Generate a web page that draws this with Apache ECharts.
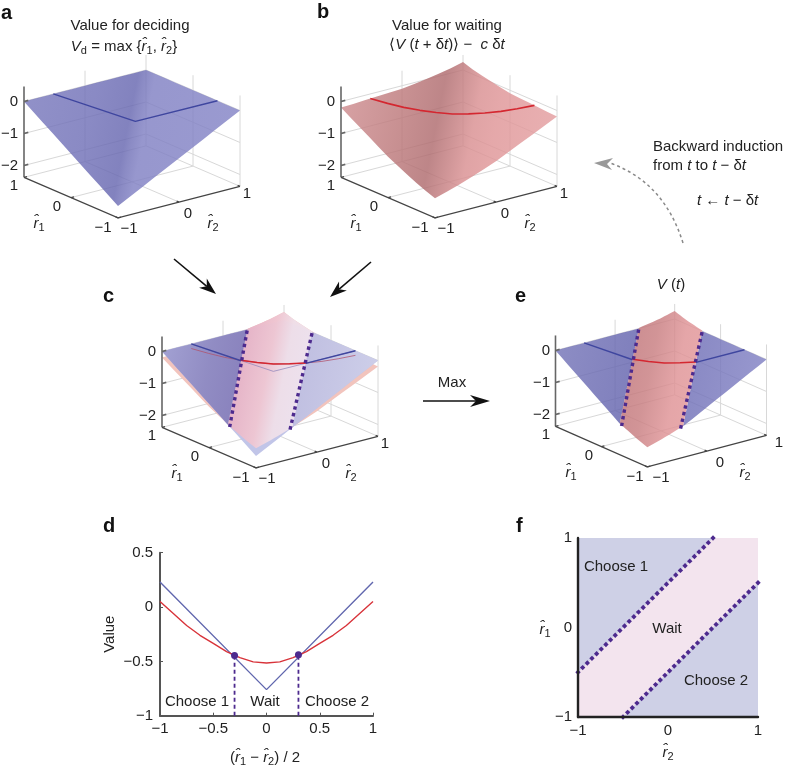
<!DOCTYPE html>
<html>
<head>
<meta charset="utf-8">
<style>
  html, body { margin: 0; padding: 0; background: #fff; }
  #chart { width: 788px; height: 770px; }
</style>
<script src="https://cdn.jsdelivr.net/npm/echarts@6/dist/echarts.min.js"></script>
</head>
<body>
<div id="chart"></div>
<script>
// values
const rGrid = [-1, -0.75, -0.5, -0.25, 0, 0.25, 0.5, 0.75, 1]
// rows are r1, columns are r2
const decideSurface = [
  [-2, -1.75, -1.5, -1.25, -1, -0.75, -0.5, -0.25, 0],
  [-1.75, -1.75, -1.5, -1.25, -1, -0.75, -0.5, -0.25, 0],
  [-1.5, -1.5, -1.5, -1.25, -1, -0.75, -0.5, -0.25, 0],
  [-1.25, -1.25, -1.25, -1.25, -1, -0.75, -0.5, -0.25, 0],
  [-1, -1, -1, -1, -1, -0.75, -0.5, -0.25, 0],
  [-0.75, -0.75, -0.75, -0.75, -0.75, -0.75, -0.5, -0.25, 0],
  [-0.5, -0.5, -0.5, -0.5, -0.5, -0.5, -0.5, -0.25, 0],
  [-0.25, -0.25, -0.25, -0.25, -0.25, -0.25, -0.25, -0.25, 0],
  [0, 0, 0, 0, 0, 0, 0, 0, 0]
]
const waitSurface = [
  [-1.76, -1.62, -1.46, -1.28, -1.09, -0.87, -0.64, -0.42, -0.19],
  [-1.62, -1.51, -1.37, -1.21, -1.03, -0.84, -0.62, -0.39, -0.17],
  [-1.46, -1.37, -1.26, -1.12, -0.96, -0.78, -0.59, -0.37, -0.14],
  [-1.28, -1.21, -1.12, -1.01, -0.87, -0.71, -0.53, -0.34, -0.12],
  [-1.09, -1.03, -0.96, -0.87, -0.76, -0.62, -0.46, -0.28, -0.09],
  [-0.87, -0.84, -0.78, -0.71, -0.62, -0.51, -0.37, -0.21, -0.03],
  [-0.64, -0.62, -0.59, -0.53, -0.46, -0.37, -0.26, -0.12, 0.05],
  [-0.42, -0.39, -0.37, -0.34, -0.28, -0.21, -0.12, -0.01, 0.13],
  [-0.19, -0.17, -0.14, -0.12, -0.09, -0.03, 0.05, 0.13, 0.25]
]
const sliceMean = 0.24
const sliceDiffs = [-0.76, -0.6, -0.45, -0.3, -0.15, 0, 0.15, 0.3, 0.45, 0.6, 0.76]
const diffBoundary = 0.3

const profileX = [-1, -0.875, -0.75, -0.625, -0.5, -0.375, -0.25, -0.125, 0, 0.125, 0.25, 0.375, 0.5, 0.625, 0.75, 0.875, 1]
const waitProfile = [0.05, -0.06, -0.17, -0.26, -0.335, -0.41, -0.465, -0.505, -0.515, -0.505, -0.465, -0.41, -0.335, -0.26, -0.17, -0.06, 0.05]
const decideX = [-1, 0, 1]
const decideProfile = [0.23, -0.76, 0.23]
const crossX = [-0.3, 0.3]
const crossY = [-0.445, -0.44]

const mapEdges = [-1, 1]
const upperBoundary = [[-1, -0.5], [0.5, 1]]
const lowerBoundary = [[-0.5, -1], [1, 0.5]]

const zTicks = [0, -1, -2]
const rTicks = [-1, 0, 1]

const font = '"Liberation Sans", Arial, sans-serif'
const purple = '#4d2a8e'
const boxBottom = -2.37
const boxTop = 0.47
const surfaceAlpha = 0.82

// oblique view shared by the four surface panels
function project(p) {
  return [-47 * p[0] + 61 * p[1], 20.25 * p[0] + 15.75 * p[1] + 32 * p[2]]
}

function sample(surface, r1, r2) {
  let step = rGrid[1] - rGrid[0]
  let a = Math.min((r1 - rGrid[0]) / step, rGrid.length - 1.001)
  let b = Math.min((r2 - rGrid[0]) / step, rGrid.length - 1.001)
  let i = Math.floor(a), j = Math.floor(b)
  let u = a - i, v = b - j
  return surface[i][j] * (1 - u) * (1 - v) + surface[i + 1][j] * u * (1 - v) +
    surface[i][j + 1] * (1 - u) * v + surface[i + 1][j + 1] * u * v
}

// walk round a region of the (r1, r2) plane, following the surface height
function outline(surface, corners) {
  let pts = []
  corners.forEach((c, k) => {
    let next = corners[(k + 1) % corners.length]
    for (let s = 0; s < 10; s++) {
      let r1 = c[0] + (next[0] - c[0]) * s / 10
      let r2 = c[1] + (next[1] - c[1]) * s / 10
      pts.push(project([r1, r2, sample(surface, r1, r2)]))
    }
  })
  return pts
}

const series = []
const grids = []
const xAxes = []
const yAxes = []
let order = 2

function addPolygon(axisIndex, points, fill, opacity) {
  series.push({
    type: 'custom',
    coordinateSystem: 'cartesian2d',
    xAxisIndex: axisIndex,
    yAxisIndex: axisIndex,
    data: [[0, 0]],
    z: order++,
    silent: true,
    clip: false,
    renderItem(params, api) {
      return {
        type: 'polygon',
        shape: { points: points.map(p => api.coord(p)) },
        style: { fill: fill, opacity: opacity === undefined ? 1 : opacity }
      }
    }
  })
}

function addSegments(axisIndex, lines, color, width) {
  series.push({
    type: 'custom',
    coordinateSystem: 'cartesian2d',
    xAxisIndex: axisIndex,
    yAxisIndex: axisIndex,
    data: [[0, 0]],
    z: order++,
    silent: true,
    clip: false,
    renderItem(params, api) {
      return {
        type: 'group',
        children: lines.map(l => ({
          type: 'polyline',
          shape: { points: l.map(p => api.coord(p)) },
          style: { stroke: color, lineWidth: width, fill: null }
        }))
      }
    }
  })
}

function addLine(axisIndex, data, color, width, opts) {
  opts = opts || {}
  series.push({
    type: 'line',
    xAxisIndex: axisIndex,
    yAxisIndex: axisIndex,
    data: data,
    z: order++,
    showSymbol: false,
    symbol: 'none',
    silent: true,
    clip: false,
    lineStyle: { color: color, width: width, type: opts.dash || 'solid', cap: 'butt', opacity: opts.opacity === undefined ? 1 : opts.opacity }
  })
}

// a run of small square dots between two points on the panel's scales
function addDots(axisIndex, from, to, pxPerUnit, size) {
  let dx = (to[0] - from[0]) * pxPerUnit, dy = (to[1] - from[1]) * pxPerUnit
  let len = Math.sqrt(dx * dx + dy * dy)
  let count = Math.round(len / 6.6)
  let dots = []
  for (let s = 0; s <= count; s++) {
    dots.push([from[0] + (to[0] - from[0]) * s / count, from[1] + (to[1] - from[1]) * s / count])
  }
  series.push({
    type: 'scatter',
    xAxisIndex: axisIndex,
    yAxisIndex: axisIndex,
    data: dots,
    symbol: 'rect',
    symbolSize: size,
    symbolRotate: Math.atan2(dy, dx) * 180 / Math.PI,
    z: order++,
    silent: true,
    clip: false,
    itemStyle: { color: purple, opacity: 1 }
  })
}

function boundaryDots(idx, a, b) {
  let from = project([a[0], a[1], sample(decideSurface, a[0], a[1])])
  let to = project([b[0], b[1], sample(decideSurface, b[0], b[1])])
  addDots(idx, from, to, 1, 3.4)
}

// the colour to lay down so that it shows as hex over white at surfaceAlpha
function seeThrough(hex) {
  let out = '#'
  for (let i = 1; i < 7; i += 2) {
    let v = parseInt(hex.substr(i, 2), 16)
    let c = Math.max(0, Math.round((v - 255 * (1 - surfaceAlpha)) / surfaceAlpha))
    out += (c < 16 ? '0' : '') + c.toString(16)
  }
  return out
}

// shading runs across the r1 = r2 crease, which leans a little on the page
function gradient(panel, stops, opaque) {
  let cx = panel.dx + 132, cy = panel.dy + 138
  return {
    type: 'linear',
    global: true,
    x: cx - 106, y: cy - 21, x2: cx + 106, y2: cy + 21,
    colorStops: stops.map(s => ({ offset: s[0], color: opaque ? s[1] : seeThrough(s[1]) }))
  }
}

function addBox(idx) {
  let walls = []
  zTicks.forEach(z => {
    walls.push([project([1, -1, z]), project([1, 1, z]), project([-1, 1, z])])
  })
  walls.push([project([1, 0, boxBottom]), project([1, 0, boxTop])])
  walls.push([project([1, 1, boxBottom]), project([1, 1, boxTop])])
  walls.push([project([0, 1, boxBottom]), project([0, 1, boxTop])])
  walls.push([project([-1, 1, boxBottom]), project([-1, 1, boxTop])])
  walls.push([project([1, -1, boxBottom]), project([1, 1, boxBottom]), project([-1, 1, boxBottom])])
  walls.push([project([0, -1, boxBottom]), project([0, 1, boxBottom])])
  walls.push([project([-1, 0, boxBottom]), project([1, 0, boxBottom])])
  addSegments(idx, walls, '#d8d8d8', 1)
}

function addAxes(idx) {
  addSegments(idx, [[project([1, -1, boxBottom]), project([1, -1, boxTop])]].concat(
    zTicks.map(z => [project([1, -1, z]), project([1, -0.93, z])])
  ), '#666', 1.6)
  let floor = [[project([1, -1, boxBottom]), project([-1, -1, boxBottom]), project([-1, 1, boxBottom])]]
  rTicks.forEach(r => {
    floor.push([project([r, -1, boxBottom]), project([r, -0.95, boxBottom])])
    floor.push([project([-1, r, boxBottom]), project([-0.95, r, boxBottom])])
  })
  addSegments(idx, floor, '#444', 1.3)
}

function surfaceSlice(surface, diffs) {
  return diffs.map(d => {
    let r1 = sliceMean + d, r2 = sliceMean - d
    return project([r1, r2, sample(surface, r1, r2)])
  })
}

const whole = [[1, -1], [1, 1], [-1, 1], [-1, -1]]
const b = 2 * diffBoundary
const waitRegion = [[-1, -1], [b - 1, -1], [1, 1 - b], [1, 1], [1 - b, 1], [-1, b - 1]]
const chooseOne = [[1, -1], [1, 1 - b], [b - 1, -1]]
const chooseTwo = [[-1, 1], [1 - b, 1], [-1, b - 1]]

const panels = {
  a: { dx: 0, dy: 0 },
  b: { dx: 317, dy: 0 },
  c: { dx: 138, dy: 250 },
  e: { dx: 532, dy: 249 }
}

Object.keys(panels).forEach((key, idx) => {
  let p = panels[key]
  p.index = idx
  grids.push({ left: p.dx + 2, top: p.dy, width: 260, height: 240 })
  xAxes.push({ type: 'value', gridIndex: idx, min: -130, max: 130, show: false })
  yAxes.push({ type: 'value', gridIndex: idx, min: -134, max: 106, show: false })
})

// a
addBox(0)
addPolygon(0, outline(decideSurface, whole), gradient(panels.a, [
  [0, '#9090c8'], [0.3, '#8a8ac4'], [0.47, '#8282be'], [0.5, '#8b8bc5'], [0.55, '#9797ce'], [1, '#9a9ad0']
]), surfaceAlpha)
addAxes(0)
addLine(0, surfaceSlice(decideSurface, [-0.76, 0, 0.76]), '#3f469f', 1.4)

// b
addBox(1)
addPolygon(1, outline(waitSurface, whole), gradient(panels.b, [
  [0, '#d6a0a2'], [0.25, '#c99193'], [0.43, '#bd8688'], [0.6, '#e0a3a5'], [0.7, '#e5a8aa'], [1, '#e9b0b2']
]), surfaceAlpha)
addAxes(1)
addLine(1, surfaceSlice(waitSurface, sliceDiffs), '#d42730', 1.6)

// c
addBox(2)
addPolygon(2, outline(waitSurface, whole), '#f2c4bd')
addPolygon(2, outline(decideSurface, whole), '#bcc0e6', 0.92)
addPolygon(2, outline(waitSurface, waitRegion), gradient(panels.c, [
  [0.25, '#dcaac4'], [0.36, '#e8b6c8'], [0.47, '#efc6d2'], [0.55, '#efdfe9'], [0.72, '#eee5f1']
], true), 0.96)
addPolygon(2, outline(decideSurface, chooseOne), gradient(panels.c, [
  [0, '#9f9dd0'], [0.2, '#8f8ac2'], [0.45, '#837ab8']
], true), 0.96)
addPolygon(2, outline(decideSurface, chooseTwo), gradient(panels.c, [
  [0.55, '#bdbcdf'], [1, '#cfd0ea']
], true), 0.96)
addAxes(2)
addLine(2, surfaceSlice(decideSurface, [-0.76, 0, 0.76]), '#8a80b8', 1, { opacity: 0.7 })
addLine(2, surfaceSlice(waitSurface, sliceDiffs), '#b0506a', 1, { opacity: 0.75 })
addLine(2, surfaceSlice(decideSurface, [-0.76, -diffBoundary]), '#3f469f', 1.4)
addLine(2, surfaceSlice(decideSurface, [diffBoundary, 0.76]), '#3f469f', 1.4)
addLine(2, surfaceSlice(waitSurface, [-0.3, -0.15, 0, 0.15, 0.3]), '#d42730', 1.5)
boundaryDots(2, [0.96, 0.36], [-0.42, -0.98])
boundaryDots(2, [0.36, 0.96], [-0.98, -0.42])

// e
addBox(3)
addPolygon(3, outline(decideSurface, chooseOne), gradient(panels.e, [
  [0, '#8c8cc4'], [0.45, '#7c7cba']
]), surfaceAlpha)
addPolygon(3, outline(decideSurface, chooseTwo), gradient(panels.e, [
  [0.55, '#8787c2'], [1, '#9a9ad0']
]), surfaceAlpha)
addPolygon(3, outline(waitSurface, waitRegion), gradient(panels.e, [
  [0.25, '#c88a8e'], [0.42, '#d29497'], [0.55, '#e5a6a8'], [0.75, '#eaacae']
]), surfaceAlpha)
addAxes(3)
addLine(3, surfaceSlice(decideSurface, [-0.76, -diffBoundary]), '#3f469f', 1.4)
addLine(3, surfaceSlice(decideSurface, [diffBoundary, 0.76]), '#3f469f', 1.4)
addLine(3, surfaceSlice(waitSurface, [-0.3, -0.15, 0, 0.15, 0.3]), '#d42730', 1.5)
boundaryDots(3, [0.96, 0.36], [-0.42, -0.98])
boundaryDots(3, [0.36, 0.96], [-0.98, -0.42])

// d
const minusLabel = v => String(v).replace('-', '\u2212')
grids.push({ left: 160, top: 552.7, width: 213, height: 163 })
xAxes.push({
  type: 'value', gridIndex: 4, min: -1, max: 1, interval: 0.5,
  axisLine: { onZero: false, lineStyle: { color: '#555', width: 2 } },
  axisTick: { inside: true, length: 3, lineStyle: { color: '#555' } },
  axisLabel: { formatter: minusLabel, fontFamily: font, fontSize: 15, color: '#222', margin: 6 },
  splitLine: { show: false }
})
yAxes.push({
  type: 'value', gridIndex: 4, min: -1, max: 0.5, interval: 0.5,
  name: 'Value', nameLocation: 'middle', nameGap: 43,
  nameTextStyle: { fontFamily: font, fontSize: 15, color: '#222' },
  axisLine: { onZero: false, lineStyle: { color: '#555', width: 2 } },
  axisTick: { inside: true, length: 3, lineStyle: { color: '#555' } },
  axisLabel: { formatter: minusLabel, fontFamily: font, fontSize: 15, color: '#222', margin: 7 },
  splitLine: { show: false }
})
addLine(4, decideX.map((x, i) => [x, decideProfile[i]]), '#6167ae', 1.4)
addLine(4, profileX.map((x, i) => [x, waitProfile[i]]), '#d8333a', 1.4)
crossX.forEach((x, i) => {
  addLine(4, [[x, -1], [x, crossY[i]]], purple, 1.8, { dash: [4, 3] })
})
series.push({
  type: 'scatter',
  xAxisIndex: 4,
  yAxisIndex: 4,
  data: crossX.map((x, i) => [x, crossY[i]]),
  symbolSize: 7,
  z: order++,
  silent: true,
  itemStyle: { color: purple, opacity: 1 }
})

// f
grids.push({ left: 578, top: 538, width: 180, height: 179 })
xAxes.push({
  type: 'value', gridIndex: 5, min: -1, max: 1, interval: 1, z: 300,
  axisLine: { onZero: false, lineStyle: { color: '#222', width: 2.4 } },
  axisTick: { show: false },
  axisLabel: { formatter: minusLabel, fontFamily: font, fontSize: 15, color: '#222', margin: 6 },
  splitLine: { show: false }
})
yAxes.push({
  type: 'value', gridIndex: 5, min: -1, max: 1, interval: 1, z: 300,
  axisLine: { onZero: false, lineStyle: { color: '#222', width: 2.4 } },
  axisTick: { show: false },
  axisLabel: { formatter: minusLabel, fontFamily: font, fontSize: 15, color: '#222', margin: 6 },
  splitLine: { show: false }
})
const lo = mapEdges[0], hi = mapEdges[1]
addPolygon(5, [[lo, lo], [hi, lo], [hi, hi], [lo, hi]], '#ced0e6')
addPolygon(5, [upperBoundary[0], upperBoundary[1], [hi, hi], lowerBoundary[1], lowerBoundary[0], [lo, lo]], '#f3e4ee')
addDots(5, upperBoundary[0], upperBoundary[1], 90, 3.8)
addDots(5, lowerBoundary[0], lowerBoundary[1], 90, 3.8)

// text and arrows
const rich = {
  i: { fontFamily: font, fontSize: 15, fontStyle: 'italic', fill: '#222' },
  n: { fontFamily: font, fontSize: 15, fill: '#222' },
  s: { fontFamily: font, fontSize: 11, fill: '#222', verticalAlign: 'bottom', padding: [8, 0, 0, 0] }
}
const rOne = '{i|r\u0302}{s|1}'
const rTwo = '{i|r\u0302}{s|2}'

function text(x, y, str, align) {
  return {
    type: 'text', x: x, y: y, z: 500, silent: true,
    style: {
      text: str, fill: '#222', fontFamily: font, fontSize: 15,
      align: align || 'center', verticalAlign: 'middle', rich: rich
    }
  }
}

function letter(x, y, str) {
  return {
    type: 'text', x: x, y: y, z: 500, silent: true,
    style: { text: str, fill: '#111', fontFamily: font, fontSize: 20, fontWeight: 'bold', align: 'left', verticalAlign: 'middle' }
  }
}

function arrow(x0, y0, x1, y1, color, len, half, notch) {
  let a = Math.atan2(y1 - y0, x1 - x0)
  let c = Math.cos(a), s = Math.sin(a)
  let at = (back, side) => [x1 - c * back - s * side, y1 - s * back + c * side]
  return [
    { type: 'line', z: 500, silent: true, shape: { x1: x0, y1: y0, x2: at(len - notch, 0)[0], y2: at(len - notch, 0)[1] }, style: { stroke: color, lineWidth: 1.6 } },
    { type: 'polygon', z: 500, silent: true, shape: { points: [[x1, y1], at(len, half), at(len - notch, 0), at(len, -half)] }, style: { fill: color } }
  ]
}

const elements = [
  letter(1, 13, 'a'), letter(317, 12, 'b'), letter(103, 296, 'c'),
  letter(515, 296, 'e'), letter(103, 526, 'd'), letter(516, 526, 'f'),
  text(130, 26, 'Value for deciding'),
  text(124, 47, '{i|V}{s|d}{n| = max \{}' + rOne + '{n|, }' + rTwo + '}'),
  text(447, 26, 'Value for waiting'),
  text(447, 45, '{n|\u27E8}{i|V}{n| (}{i|t}{n| + \u03B4}{i|t}{n|)\u27E9 \u2212  }{i|c}{n| \u03B4}{i|t}'),
  text(653, 147, 'Backward induction', 'left'),
  text(653, 166, '{n|from }{i|t}{n| to }{i|t}{n| \u2212 \u03B4}{i|t}', 'left'),
  text(697, 201, '{i|t}{n| \u2190 }{i|t}{n| \u2212 \u03B4}{i|t}', 'left'),
  text(671, 285, '{i|V}{n| (}{i|t}{n|)}'),
  text(452, 383, 'Max'),
  text(197, 702, 'Choose 1'), text(265, 702, 'Wait'), text(337, 702, 'Choose 2'),
  text(265, 758, '{n|(}' + rOne + '{n| \u2212 }' + rTwo + '{n|) / 2}'),
  text(616, 567, 'Choose 1'), text(667, 629, 'Wait'), text(716, 681, 'Choose 2'),
  text(545, 630, rOne), text(668, 753, rTwo),
  {
    type: 'bezierCurve', z: 500, silent: true,
    shape: { x1: 683, y1: 243, x2: 610, y2: 163, cpx1: 664, cpy1: 182 },
    style: { stroke: '#8a8a8a', lineWidth: 1.5, lineDash: [3, 3], fill: null }
  },
  { type: 'polygon', z: 500, silent: true, shape: { points: [[594, 163], [613, 158], [607, 164], [612, 170]] }, style: { fill: '#999' } }
].concat(
  arrow(174, 259, 216, 294, '#111', 17, 6, 5),
  arrow(371, 262, 330, 297, '#111', 17, 6, 5),
  arrow(423, 401, 490, 401, '#111', 20, 6, 6)
)

Object.keys(panels).forEach(key => {
  let p = panels[key]
  let put = (x, y, s) => elements.push(text(x + p.dx, y + p.dy, s))
  zTicks.forEach(z => {
    let at = project([1, -1, z])
    elements.push(text(p.dx + 18, 106 - at[1] + p.dy, minusLabel(z), 'right'))
  })
  rTicks.forEach((r, i) => {
    put([103, 57, 14][i], [228, 207, 186][i], minusLabel(r))
    put([129, 188, 247][i], [229, 214, 194][i], minusLabel(r))
  })
  put(39, 224, rOne)
  put(213, 224, rTwo)
})

const chart = echarts.init(document.getElementById('chart'), null, { renderer: 'canvas' })
chart.setOption({
  animation: false,
  backgroundColor: '#fff',
  tooltip: { show: false },
  grid: grids,
  xAxis: xAxes,
  yAxis: yAxes,
  series: series,
  graphic: { elements: elements }
})
</script>
</body>
</html>
